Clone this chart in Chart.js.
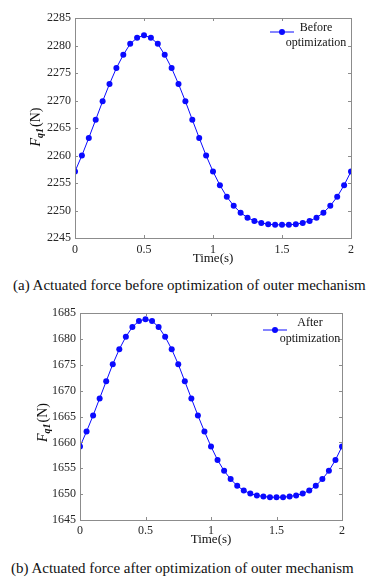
<!DOCTYPE html>
<html>
<head>
<meta charset="utf-8">
<script src="https://cdn.jsdelivr.net/npm/chart.js@4.4.1/dist/chart.umd.min.js"></script>
<style>
  body { margin: 0; background: #fff; width: 367px; height: 581px; overflow: hidden; position: relative;
         font-family: "Liberation Serif", "Times New Roman", serif; }
  canvas { position: absolute; left: 0; }
  #chartBefore { top: 0; }
  #chartAfter { top: 300px; }
  .cap { position: absolute; font-size: 15px; line-height: 16px; color: #111; white-space: nowrap; }
  #cap1 { top: 277px; left: 13px; }
  #cap2 { top: 560px; left: 11px; }
</style>
</head>
<body>
<canvas id="chartBefore" width="367" height="270"></canvas>
<div class="cap" id="cap1">(a) Actuated force before optimization of outer mechanism</div>
<canvas id="chartAfter" width="367" height="250"></canvas>
<div class="cap" id="cap2">(b) Actuated force after optimization of outer mechanism</div>

<script>
// time samples (s)
const timeS = [0, 0.05, 0.1, 0.15, 0.2, 0.25, 0.3, 0.35, 0.4, 0.45, 0.5, 0.55, 0.6, 0.65, 0.7, 0.75, 0.8, 0.85, 0.9, 0.95,
               1, 1.05, 1.1, 1.15, 1.2, 1.25, 1.3, 1.35, 1.4, 1.45, 1.5, 1.55, 1.6, 1.65, 1.7, 1.75, 1.8, 1.85, 1.9, 1.95, 2];

// F_q1 before optimization (N)
const forceBefore = [2257.1, 2260.0, 2263.2, 2266.5, 2269.85, 2273.0, 2275.9, 2278.3, 2280.3, 2281.4, 2281.85,
                     2281.4, 2280.3, 2278.3, 2275.9, 2273.0, 2269.85, 2266.5, 2263.2, 2260.0, 2257.1,
                     2254.6, 2252.5, 2250.85, 2249.6, 2248.7, 2248.1, 2247.75, 2247.5, 2247.4, 2247.4,
                     2247.4, 2247.5, 2247.75, 2248.1, 2248.7, 2249.6, 2250.85, 2252.5, 2254.6, 2257.1];

// F_q1 after optimization (N)
const forceAfter = [1659.2, 1662.1, 1665.2, 1668.5, 1671.8, 1675.1, 1678.0, 1680.4, 1682.3, 1683.45, 1683.8,
                    1683.45, 1682.3, 1680.4, 1678.0, 1675.1, 1671.8, 1668.5, 1665.2, 1662.1, 1659.2,
                    1656.6, 1654.5, 1652.9, 1651.6, 1650.7, 1650.1, 1649.75, 1649.55, 1649.4, 1649.4,
                    1649.4, 1649.55, 1649.75, 1650.1, 1650.7, 1651.6, 1652.9, 1654.5, 1656.6, 1659.2];

const xTicks = [0, 0.5, 1, 1.5, 2];
const yRangeBefore = [2245, 2285];
const yRangeAfter = [1645, 1685];
const legendBefore = ["Before", "optimization"];
const legendAfter = ["After", "optimization"];

const SERIF = '"Liberation Serif", "Times New Roman", serif';
const BLUE = "#0a0aff";

/* box + inward ticks + y title + legend, MATLAB-ish */
const decorPlugin = {
  id: "decor",
  afterDraw(chart, args, opts) {
    const ctx = chart.ctx;
    const a = chart.chartArea;
    const xs = chart.scales.x, ys = chart.scales.y;
    ctx.save();
    ctx.strokeStyle = "#8c8c8c";
    ctx.lineWidth = 1;
    ctx.strokeRect(Math.round(a.left) + 0.5, Math.round(a.top) + 0.5,
                   Math.round(a.right - a.left), Math.round(a.bottom - a.top));
    ctx.beginPath();
    const tl = 3;
    xs.ticks.forEach(t => {
      const px = Math.round(xs.getPixelForValue(t.value)) + 0.5;
      ctx.moveTo(px, a.bottom); ctx.lineTo(px, a.bottom - tl);
      ctx.moveTo(px, a.top); ctx.lineTo(px, a.top + tl);
    });
    ys.ticks.forEach(t => {
      const py = Math.round(ys.getPixelForValue(t.value)) + 0.5;
      ctx.moveTo(a.left, py); ctx.lineTo(a.left + tl, py);
      ctx.moveTo(a.right, py); ctx.lineTo(a.right - tl, py);
    });
    ctx.stroke();

    // y title: F_q1(N)
    const cx = opts.titleX, cy = (a.top + a.bottom) / 2 + opts.titleDy;
    ctx.translate(cx, cy);
    ctx.rotate(-Math.PI / 2);
    ctx.fillStyle = "#111";
    ctx.textBaseline = "alphabetic";
    const fF = "italic 14px " + SERIF, fSub = "italic bold 10px " + SERIF, fN = "14px " + SERIF;
    ctx.font = fF; const wF = ctx.measureText("F").width;
    ctx.font = fSub; const wS = ctx.measureText("q1").width;
    ctx.font = fN; const wN = ctx.measureText("(N)").width;
    let x0 = -(wF + wS + wN + 1) / 2;
    ctx.font = fF; ctx.fillText("F", x0, 4); x0 += wF;
    ctx.font = fSub; ctx.fillText("q1", x0, 7); x0 += wS + 1;
    ctx.font = fN; ctx.fillText("(N)", x0, 4);
    ctx.restore();

    // legend
    ctx.save();
    const lx = a.right - opts.legendDx, ly = a.top + opts.legendDy;
    ctx.strokeStyle = BLUE; ctx.lineWidth = 1;
    ctx.beginPath(); ctx.moveTo(lx, ly); ctx.lineTo(lx + 24, ly); ctx.stroke();
    ctx.fillStyle = BLUE;
    ctx.beginPath(); ctx.arc(lx + 12, ly, 3, 0, Math.PI * 2); ctx.fill();
    ctx.fillStyle = "#111";
    ctx.font = "12px " + SERIF;
    ctx.textAlign = "center";
    ctx.textBaseline = "middle";
    opts.lines.forEach((s, i) => ctx.fillText(s, lx + opts.textDx, ly + opts.lineY[i]));
    ctx.restore();
  }
};

function makeChart(id, values, yRange, legendLines, lay) {
  const ctx = document.getElementById(id).getContext("2d");
  return new Chart(ctx, {
    type: "line",
    data: {
      datasets: [{
        label: legendLines.join(" "),
        data: timeS.map((t, i) => ({ x: t, y: values[i] })),
        borderColor: BLUE,
        backgroundColor: BLUE,
        borderWidth: 1,
        pointRadius: 3,
        pointBorderWidth: 0,
        pointBackgroundColor: BLUE,
        tension: 0,
        fill: false
      }]
    },
    options: {
      responsive: false,
      animation: false,
      devicePixelRatio: 1,
      layout: { padding: { top: lay.top, right: lay.right, left: 0, bottom: 0 } },
      plugins: {
        legend: { display: false },
        tooltip: { enabled: false },
        decor: {
          titleX: lay.titleX, titleDy: lay.titleDy,
          legendDx: lay.legendDx, legendDy: lay.legendDy,
          textDx: lay.textDx, lineY: lay.lineY, lines: legendLines
        }
      },
      scales: {
        x: {
          type: "linear",
          min: xTicks[0],
          max: xTicks[xTicks.length - 1],
          afterBuildTicks: s => { s.ticks = xTicks.map(v => ({ value: v })); },
          afterFit: s => { s.height = lay.xHeight; },
          grid: { display: false, drawTicks: false, tickLength: 0 },
          border: { display: false },
          ticks: { color: "#262626", font: { family: SERIF, size: 12 }, padding: lay.xTickPad, maxRotation: 0,
                   callback: v => String(v) },
          title: { display: true, text: "Time(s)", color: "#111", font: { family: SERIF, size: 13 },
                   padding: { top: 0, bottom: lay.titlePad } }
        },
        y: {
          min: yRange[0],
          max: yRange[1],
          afterFit: s => { s.width = lay.yWidth; },
          grid: { display: false, drawTicks: false, tickLength: 0 },
          border: { display: false },
          ticks: { stepSize: 5, color: "#262626", font: { family: SERIF, size: 12 }, padding: 4,
                   callback: v => String(v) }
        }
      }
    },
    plugins: [decorPlugin]
  });
}

makeChart("chartBefore", forceBefore, yRangeBefore, legendBefore, {
  top: 18, right: 16, yWidth: 75, xHeight: 32, titlePad: 4, xTickPad: 5,
  titleX: 36, titleDy: -1,
  legendDx: 81, legendDy: 14, textDx: 46, lineY: [-4, 11]
});

makeChart("chartAfter", forceAfter, yRangeAfter, legendAfter, {
  top: 13, right: 25, yWidth: 80, xHeight: 30, titlePad: 3, xTickPad: 4,
  titleX: 43, titleDy: 6,
  legendDx: 79, legendDy: 17, textDx: 47, lineY: [-7, 9]
});
</script>
</body>
</html>
